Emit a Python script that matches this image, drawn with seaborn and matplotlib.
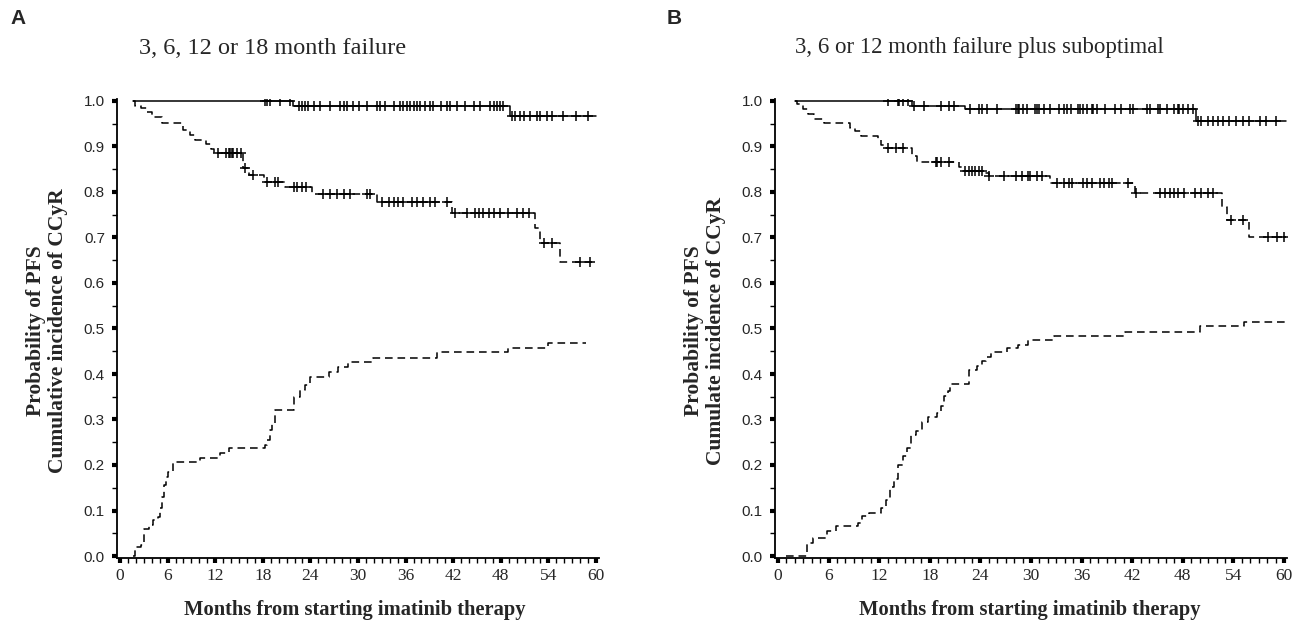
import numpy as np
import pandas as pd
import matplotlib
matplotlib.use("Agg")
import matplotlib.pyplot as plt
from matplotlib.ticker import MultipleLocator, FormatStrFormatter
import seaborn as sns

# ---------------- Panel A data ----------------
a_letter = "A"
a_title = "3, 6, 12 or 18 month failure"
a_ylabel = "Probability of PFS\nCumulative incidence of CCyR"

a_top_t = [1.7, 21.8, 49.2, 60.0]
a_top_v = [1.0, 0.989, 0.966, 0.966]
a_top_cens = [18.3, 18.5, 18.9, 20.2, 21.4, 22.5, 22.9, 23.3, 23.7, 24.4, 25.2,
              26.5, 27.7, 28.2, 28.6, 29.4, 30.1, 31.1, 32.4, 32.8, 33.4, 34.5,
              35.3, 35.7, 36.2, 36.6, 37.0, 37.4, 37.8, 38.5, 39.1, 39.5, 40.4,
              41.2, 41.6, 42.5, 43.5, 44.6, 45.4, 46.7, 47.1, 47.5, 47.9, 48.3,
              49.4, 49.8, 50.4, 50.9, 51.7, 52.5, 52.9, 53.8, 54.5, 55.8, 57.5, 59.0]

a_mid_t = [1.7, 1.9, 2.7, 3.4, 4.0, 5.3, 8.0, 8.8, 9.5, 10.9, 11.5, 11.8, 15.5,
           16.2, 18.1, 20.8, 24.2, 32.4, 41.8, 52.3, 52.9, 55.5, 60.0]
a_mid_v = [1.0, 0.99, 0.985, 0.975, 0.965, 0.952, 0.937, 0.925, 0.915, 0.905,
           0.895, 0.885, 0.852, 0.838, 0.822, 0.81, 0.796, 0.778, 0.754, 0.72,
           0.688, 0.647, 0.647]
a_mid_cens = [12.4, 13.3, 13.7, 13.9, 14.1, 14.3, 14.7, 15.3, 15.7, 16.8, 18.5,
              19.6, 19.9, 21.9, 22.3, 22.9, 23.5, 25.6, 26.5, 27.3, 28.2, 29.0,
              31.1, 31.5, 33.0, 33.9, 34.5, 35.1, 35.7, 36.8, 37.4, 38.2, 39.1,
              39.7, 41.2, 42.2, 43.7, 44.8, 45.2, 45.8, 46.5, 47.1, 47.9, 48.9,
              50.0, 50.8, 51.5, 53.4, 54.5, 58.0, 59.3]

a_low_t = [1.7, 1.9, 2.7, 3.0, 3.6, 4.2, 4.8, 5.0, 5.3, 5.5, 5.8, 6.1, 6.7, 10.1,
           12.6, 13.7, 18.3, 18.5, 18.9, 19.2, 19.5, 21.9, 22.7, 23.3, 23.9,
           26.3, 27.5, 28.8, 31.9, 39.9, 48.9, 54.0, 58.8]
a_low_v = [0.0, 0.019, 0.025, 0.059, 0.068, 0.079, 0.085, 0.105, 0.13, 0.156,
           0.174, 0.185, 0.206, 0.215, 0.227, 0.237, 0.244, 0.255, 0.277, 0.291,
           0.321, 0.35, 0.365, 0.376, 0.394, 0.405, 0.416, 0.427, 0.436, 0.449,
           0.458, 0.469, 0.469]

# ---------------- Panel B data ----------------
b_letter = "B"
b_title = "3, 6 or 12 month failure plus suboptimal"
b_ylabel = "Probability of PFS\nCumulate incidence of CCyR"

b_top_t = [2.0, 15.9, 22.2, 49.6, 60.2]
b_top_v = [1.0, 0.989, 0.982, 0.956, 0.956]
b_top_cens = [13.0, 14.2, 14.4, 14.8, 15.4, 16.1, 17.3, 19.3, 20.3, 20.9, 22.8,
              23.8, 24.2, 24.8, 26.0, 28.2, 28.4, 28.6, 29.0, 29.5, 30.5, 30.7,
              30.9, 31.5, 32.3, 33.3, 33.9, 34.3, 34.8, 35.6, 35.8, 36.2, 36.6,
              37.2, 37.4, 37.8, 38.8, 40.0, 40.7, 41.7, 42.1, 43.7, 44.1, 45.1,
              45.3, 46.1, 46.9, 47.4, 47.6, 48.0, 48.6, 49.2, 49.8, 50.2, 51.0,
              51.6, 52.2, 52.8, 53.5, 54.3, 55.1, 55.9, 57.1, 57.9, 59.0]

b_mid_t = [2.0, 2.2, 3.0, 3.5, 4.3, 5.5, 8.5, 9.1, 9.8, 11.8, 12.2, 12.6, 15.9,
           16.5, 21.5, 21.8, 24.6, 25.0, 32.3, 42.3, 52.6, 53.3, 55.9, 60.2]
b_mid_v = [1.0, 0.993, 0.982, 0.971, 0.961, 0.952, 0.941, 0.934, 0.924, 0.915,
           0.904, 0.897, 0.879, 0.865, 0.854, 0.846, 0.842, 0.835, 0.82, 0.798,
           0.768, 0.739, 0.702, 0.702]
b_mid_cens = [13.0, 14.0, 14.8, 18.7, 18.9, 19.3, 20.3, 22.2, 22.6, 23.0, 23.4,
              23.8, 24.2, 25.0, 26.8, 28.2, 28.9, 29.7, 29.9, 30.7, 31.3, 33.1,
              33.9, 34.5, 34.9, 36.2, 36.6, 37.2, 38.2, 38.6, 39.2, 39.6, 41.5,
              42.5, 45.3, 45.9, 46.5, 46.9, 47.4, 48.2, 49.4, 50.2, 51.0, 51.6,
              53.7, 55.1, 58.1, 59.2, 60.0]

b_low_t = [1.0, 3.4, 4.2, 5.8, 6.9, 9.5, 10.0, 10.8, 12.2, 12.8, 13.3, 13.7,
           14.2, 14.8, 15.3, 15.8, 16.4, 17.1, 17.8, 18.9, 19.3, 19.7, 20.1,
           20.4, 22.6, 23.6, 24.2, 24.7, 25.2, 27.2, 28.5, 29.6, 32.7, 41.1,
           50.0, 55.3, 60.2]
b_low_v = [0.0, 0.029, 0.039, 0.056, 0.065, 0.073, 0.087, 0.094, 0.105, 0.122,
           0.151, 0.169, 0.199, 0.219, 0.238, 0.265, 0.274, 0.294, 0.305, 0.314,
           0.329, 0.352, 0.362, 0.379, 0.409, 0.417, 0.428, 0.437, 0.449, 0.457,
           0.464, 0.475, 0.483, 0.492, 0.505, 0.514, 0.514]

x_major_ticks = [0, 6, 12, 18, 24, 30, 36, 42, 48, 54, 60]
xlabel_text = "Months from starting imatinib therapy"

# ---------------- styling ----------------
sns.set_theme(style="ticks")
SERIF = ["Liberation Serif", "DejaVu Serif"]
SANS = ["Liberation Sans", "DejaVu Sans"]
plt.rcParams["font.family"] = SERIF
plt.rcParams["lines.scale_dashes"] = False

W, H = 1302, 636
fig = plt.figure(figsize=(W / 100, H / 100), dpi=100)

def frac_box(x0px, x60px, xlo=-0.4, xhi=60.4, y0px=556.0, y1px=101.0, ylo=-0.004, yhi=1.004):
    sx = (x60px - x0px) / 60.0
    left = x0px + xlo * sx
    right = x0px + xhi * sx
    sy = (y0px - y1px)
    bottom = y0px - ylo * sy
    top = y0px - yhi * sy
    return [left / W, 1 - bottom / H, (right - left) / W, (bottom - top) / H]

axA = fig.add_axes(frac_box(120, 596))
axB = fig.add_axes(frac_box(778, 1284))

DASH = (0, (5.5, 3.5))

def step_at(t, v, xs):
    t = np.asarray(t)
    v = np.asarray(v)
    idx = np.searchsorted(t, np.asarray(xs), side="right") - 1
    return v[np.clip(idx, 0, len(v) - 1)]

def draw_curve(ax, t, v, ls, cens=None):
    df = pd.DataFrame({"month": t, "p": v})
    sns.lineplot(data=df, x="month", y="p", ax=ax, estimator=None, sort=False,
                 drawstyle="steps-post", color="black", linewidth=1.1, linestyle=ls)
    if cens:
        cdf = pd.DataFrame({"month": cens, "p": step_at(t, v, cens)})
        sns.scatterplot(data=cdf, x="month", y="p", ax=ax, marker="+", s=55,
                        color="black", linewidth=1.1, zorder=3)

def style_axes(ax, ylab, xlab_cx, ylab_cx, ylab_cy):
    ax.set_xlim(-0.4, 60.4)
    ax.set_ylim(-0.004, 1.004)
    ax.set_xticks(x_major_ticks)
    ax.xaxis.set_minor_locator(MultipleLocator(1))
    ax.yaxis.set_major_locator(MultipleLocator(0.1))
    ax.yaxis.set_minor_locator(MultipleLocator(0.05))
    ax.yaxis.set_major_formatter(FormatStrFormatter("%.1f"))
    for s in ("top", "right"):
        ax.spines[s].set_visible(False)
    for s in ("left", "bottom"):
        ax.spines[s].set_linewidth(1.3)
        ax.spines[s].set_color("black")
    ax.tick_params(which="major", length=3.6, width=3.0, direction="out", color="black")
    ax.tick_params(which="minor", length=3.6, width=1.0, direction="out", color="black")
    ax.tick_params(axis="x", which="major", pad=4, labelsize=12.5)
    ax.tick_params(axis="y", which="major", pad=5, labelsize=11)
    for lab in ax.get_yticklabels():
        lab.set_fontfamily(SANS)
    for lab in ax.get_xticklabels():
        lab.set_fontfamily(SERIF)
    ax.set_xlabel("")
    ax.set_ylabel("")
    fig.text(xlab_cx / W, 1 - 610 / H, xlabel_text, ha="center", va="center",
             fontsize=14.8, fontweight="bold", family=SERIF)
    fig.text(ylab_cx / W, 1 - ylab_cy / H, ylab, rotation=90, ha="center",
             va="center", multialignment="center", fontsize=15.5, fontweight="bold",
             family=SERIF, linespacing=1.1)

draw_curve(axA, a_top_t, a_top_v, "-", a_top_cens)
draw_curve(axA, a_mid_t, a_mid_v, DASH, a_mid_cens)
draw_curve(axA, a_low_t, a_low_v, DASH)
style_axes(axA, a_ylabel, 355, 47, 331)

draw_curve(axB, b_top_t, b_top_v, "-", b_top_cens)
draw_curve(axB, b_mid_t, b_mid_v, DASH, b_mid_cens)
draw_curve(axB, b_low_t, b_low_v, DASH)
style_axes(axB, b_ylabel, 1030, 705, 331)

fig.text(139 / W, 1 - 48 / H, a_title, ha="left", va="center", fontsize=17.5, family=SERIF)
fig.text(795 / W, 1 - 48 / H, b_title, ha="left", va="center", fontsize=16.5, family=SERIF)
fig.text(10 / W, 1 - 18 / H, a_letter, ha="left", va="center", fontsize=15,
         fontweight="bold", family=SANS)
fig.text(667 / W, 1 - 18 / H, b_letter, ha="left", va="center", fontsize=15,
         fontweight="bold", family=SANS)

fig.savefig("out.png", dpi=100, facecolor="white")
